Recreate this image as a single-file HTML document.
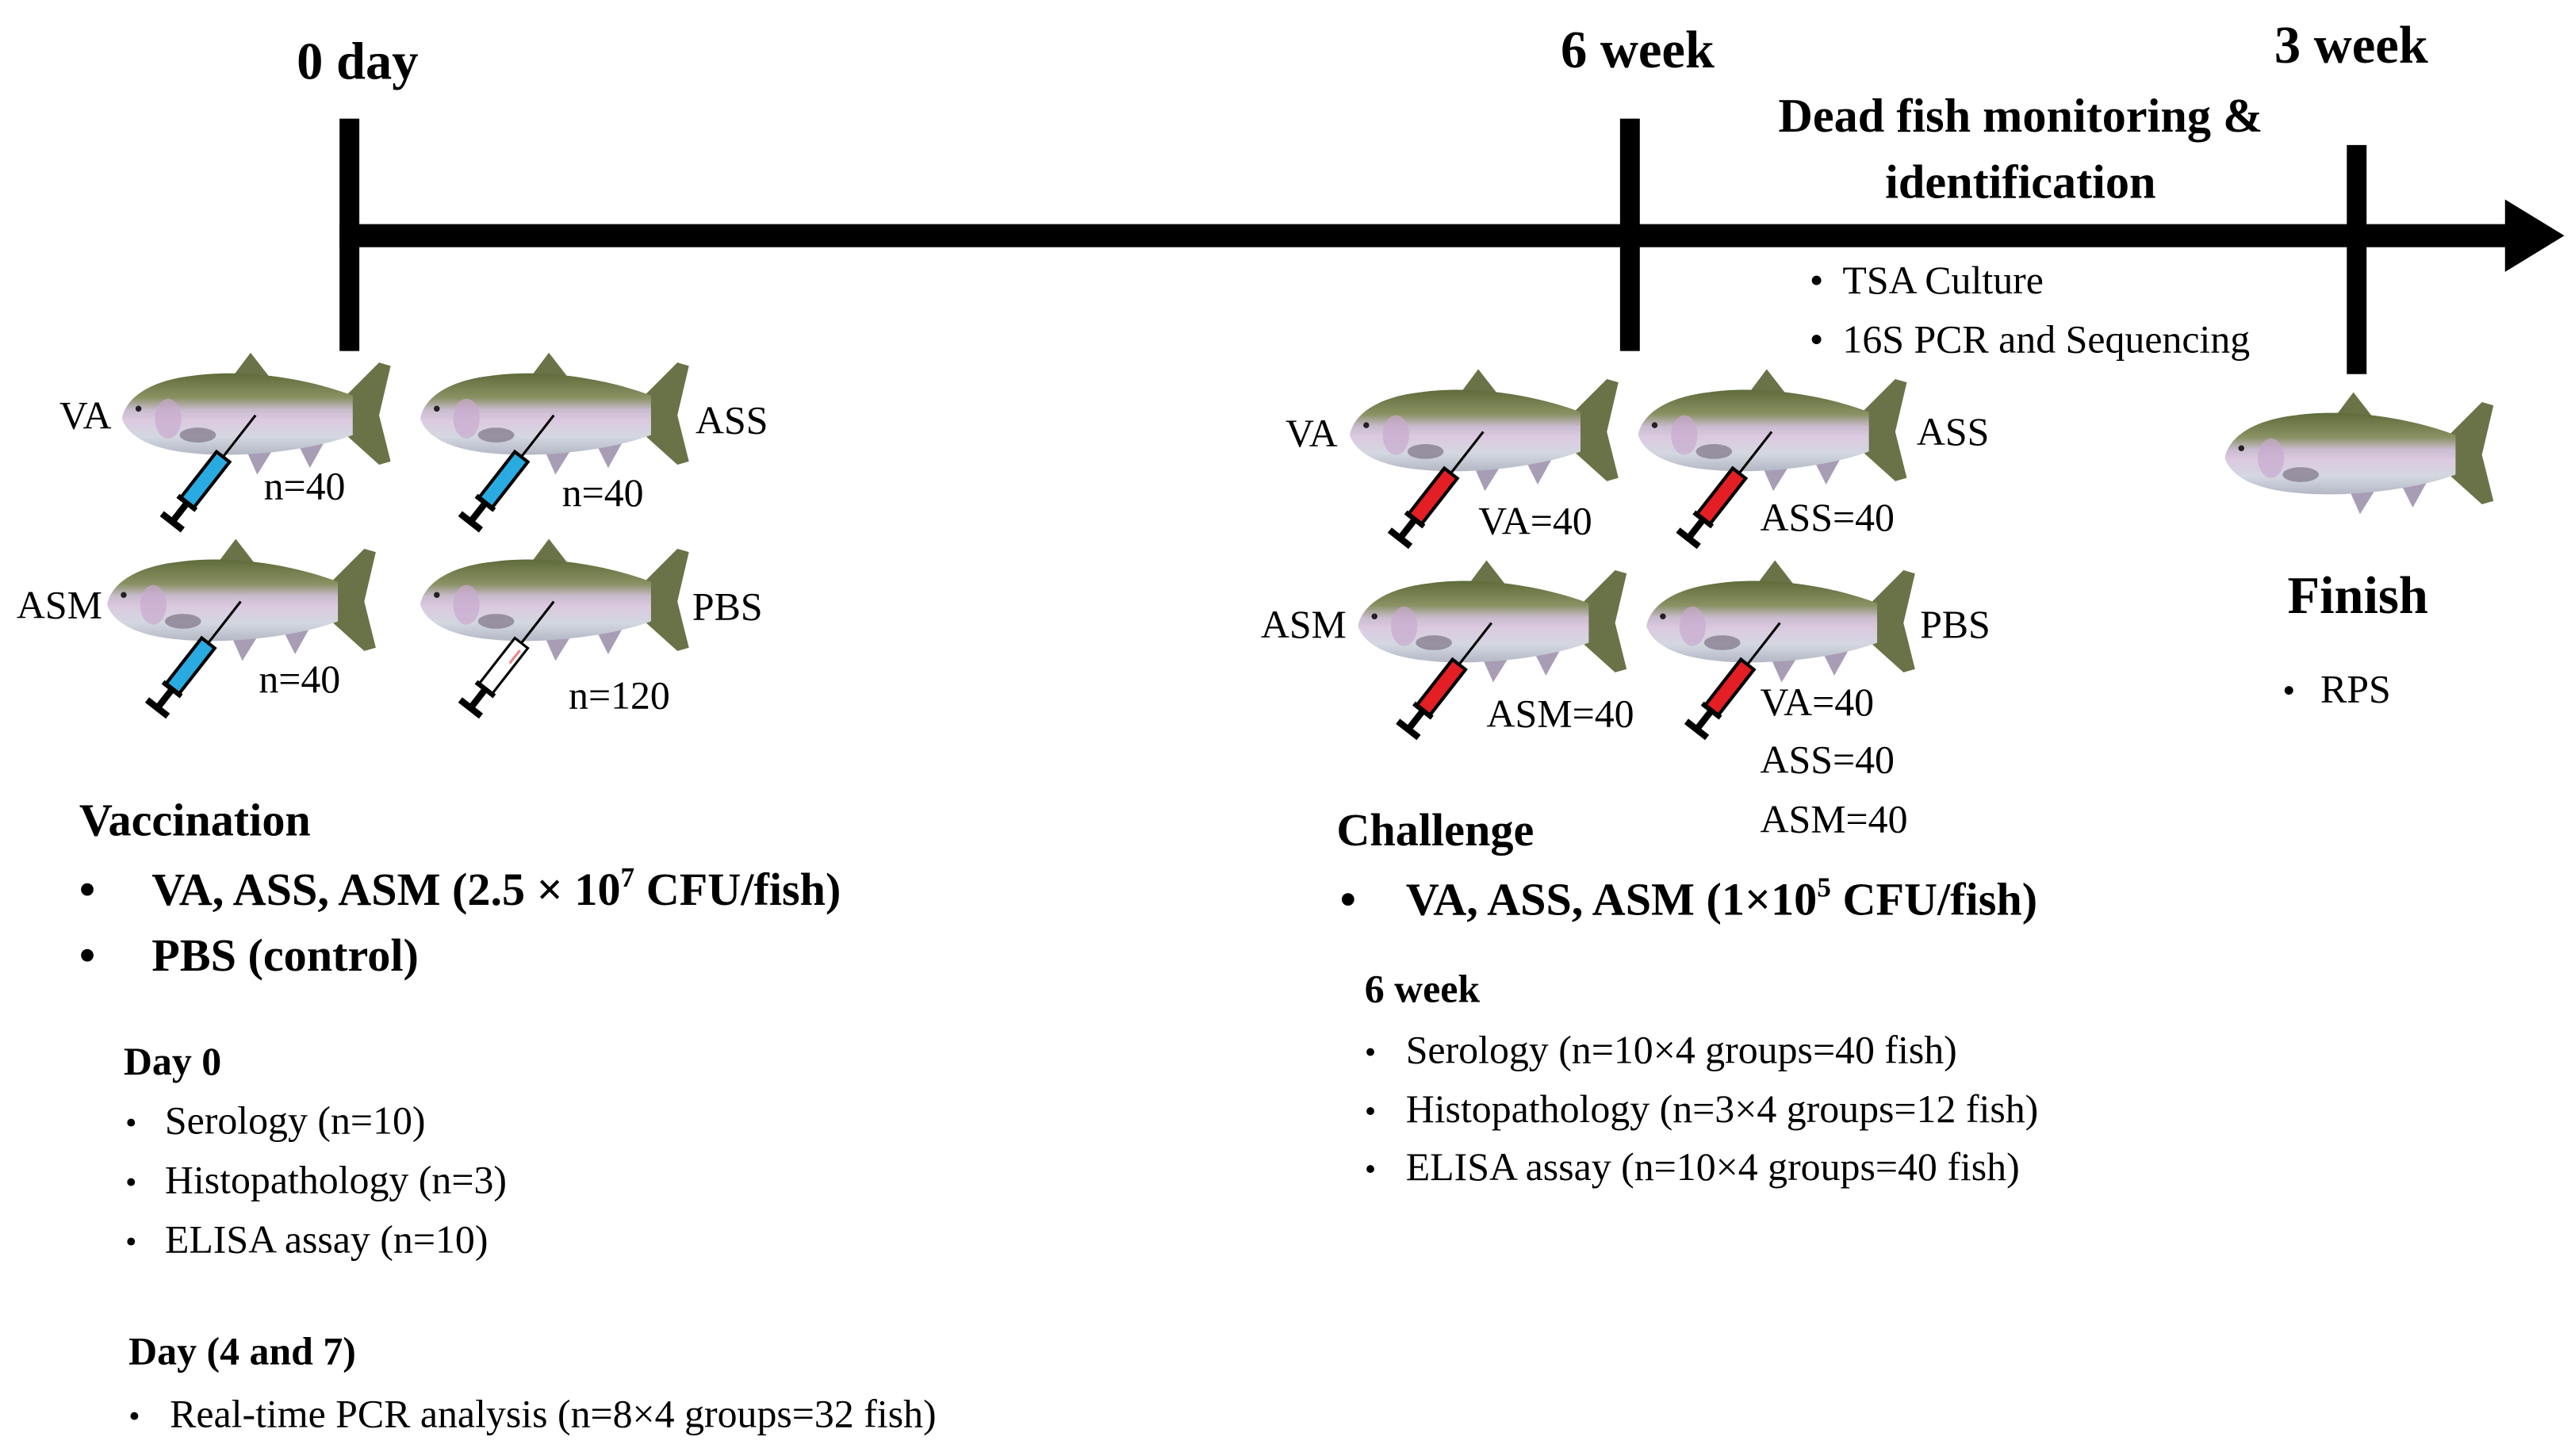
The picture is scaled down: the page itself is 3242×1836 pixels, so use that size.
<!DOCTYPE html>
<html><head><meta charset="utf-8"><style>
html,body{margin:0;padding:0;background:#fff;}
svg{display:block;}
text{font-family:"Liberation Serif",serif;fill:#000;}
.b{font-weight:bold;}
</style></head><body>
<svg width="3242" height="1836" viewBox="0 0 1560 883.5" xmlns="http://www.w3.org/2000/svg">
<defs>
<linearGradient id="fg" x1="0" y1="0" x2="0" y2="1">
<stop offset="0" stop-color="#5f6b3a"/>
<stop offset="0.3" stop-color="#8a9163"/>
<stop offset="0.45" stop-color="#c9bccf"/>
<stop offset="0.58" stop-color="#dccae0"/>
<stop offset="0.78" stop-color="#d3d7e0"/>
<stop offset="1" stop-color="#b4b8c6"/>
</linearGradient>
<g id="fish">
<path d="M68,16 L80,0 L94,18 Z" fill="#6a7248"/>
<path d="M76,56 L84,74 L94,58 Z" fill="#a99db6"/>
<path d="M108,54 L116,70 L126,52 Z" fill="#a99db6"/>
<path d="M138,26 L158,6 L165,8 L158,38 L165,66 L158,68 L138,50 Z" fill="#6a7248"/>
<path d="M2,40 C4,28 18,17 45,14 C72,10 110,14 142,26 L142,50 C115,60 72,64 45,61 C22,59 6,52 2,40 Z" fill="url(#fg)"/>
<ellipse cx="30" cy="40" rx="8" ry="12" fill="#c9a9cf" opacity="0.7"/>
<ellipse cx="48" cy="50" rx="11" ry="4.5" fill="#7d7486" opacity="0.7"/>
<circle cx="12" cy="34" r="1.8" fill="#222"/>
</g>
<g id="syrB"><line x1="0" y1="0" x2="0" y2="32" stroke="#000" stroke-width="1.5"/><rect x="-5" y="32" width="10" height="36" fill="#29abe2" stroke="#000" stroke-width="2"/><rect x="-2" y="68" width="4" height="14" fill="#000"/><rect x="-8" y="80" width="16" height="4" fill="#000"/><rect x="-7" y="66" width="14" height="3" fill="#000"/></g>
<g id="syrR"><line x1="0" y1="0" x2="0" y2="32" stroke="#000" stroke-width="1.5"/><rect x="-5" y="32" width="10" height="36" fill="#e31e24" stroke="#000" stroke-width="2"/><rect x="-2" y="68" width="4" height="14" fill="#000"/><rect x="-8" y="80" width="16" height="4" fill="#000"/><rect x="-7" y="66" width="14" height="3" fill="#000"/></g>
<g id="syrW"><line x1="0" y1="0" x2="0" y2="32" stroke="#000" stroke-width="1.5"/><rect x="-5" y="32" width="10" height="36" fill="#fff" stroke="#000" stroke-width="1.5"/><line x1="2" y1="36" x2="2" y2="46" stroke="#e88" stroke-width="1.5"/><rect x="-2" y="68" width="4" height="14" fill="#000"/><rect x="-8" y="80" width="16" height="4" fill="#000"/><rect x="-7" y="66" width="14" height="3" fill="#000"/></g>
</defs>

<!-- timeline -->
<rect x="206" y="136" width="1318" height="14" fill="#000"/>
<polygon points="1520,121 1556,143 1520,165" fill="#000"/>
<rect x="206" y="72" width="12" height="141" fill="#000"/>
<rect x="983" y="72" width="12" height="141" fill="#000"/>
<rect x="1424" y="88" width="12" height="139" fill="#000"/>

<text x="180" y="48" font-size="32" class="b">0 day</text>
<text x="947" y="41" font-size="32" class="b">6 week</text>
<text x="1380" y="38" font-size="32" class="b">3 week</text>
<text x="1226" y="80" font-size="29" class="b" text-anchor="middle">Dead fish monitoring &amp;</text>
<text x="1226" y="120" font-size="29" class="b" text-anchor="middle">identification</text>
<text x="1098" y="178" font-size="24">•</text><text x="1118" y="178" font-size="24">TSA Culture</text>
<text x="1098" y="214" font-size="24">•</text><text x="1118" y="214" font-size="24">16S PCR and Sequencing</text>

<!-- vaccination fish -->
<use href="#fish" x="72" y="214"/>
<use href="#syrB" transform="translate(155,252) rotate(38)"/>
<text x="36" y="260" font-size="24">VA</text>
<text x="160" y="303" font-size="24">n=40</text>

<use href="#fish" x="253" y="214"/>
<use href="#syrB" transform="translate(336,252) rotate(38)"/>
<text x="422" y="263" font-size="24">ASS</text>
<text x="341" y="307" font-size="24">n=40</text>

<use href="#fish" x="63" y="327"/>
<use href="#syrB" transform="translate(146,365) rotate(38)"/>
<text x="10" y="375" font-size="24">ASM</text>
<text x="157" y="420" font-size="24">n=40</text>

<use href="#fish" x="253" y="327"/>
<use href="#syrW" transform="translate(336,365) rotate(38)"/>
<text x="420" y="376" font-size="24">PBS</text>
<text x="345" y="430" font-size="24">n=120</text>

<!-- challenge fish -->
<use href="#fish" x="817" y="224"/>
<use href="#syrR" transform="translate(900,262) rotate(38)"/>
<text x="780" y="271" font-size="24">VA</text>
<text x="897" y="324" font-size="24">VA=40</text>

<use href="#fish" x="992" y="224"/>
<use href="#syrR" transform="translate(1075,262) rotate(38)"/>
<text x="1163" y="270" font-size="24">ASS</text>
<text x="1068" y="322" font-size="24">ASS=40</text>

<use href="#fish" x="822" y="340"/>
<use href="#syrR" transform="translate(905,378) rotate(38)"/>
<text x="765" y="387" font-size="24">ASM</text>
<text x="902" y="441" font-size="24">ASM=40</text>

<use href="#fish" x="997" y="340"/>
<use href="#syrR" transform="translate(1080,378) rotate(38)"/>
<text x="1165" y="387" font-size="24">PBS</text>
<text x="1068" y="434" font-size="24">VA=40</text>
<text x="1068" y="469" font-size="24">ASS=40</text>
<text x="1068" y="505" font-size="24">ASM=40</text>

<use href="#fish" x="1348" y="238"/>
<text x="1388" y="372" font-size="32" class="b">Finish</text>
<text x="1385" y="426" font-size="22">•</text><text x="1408" y="426" font-size="24">RPS</text>

<!-- vaccination text -->
<text x="48" y="507" font-size="28" class="b">Vaccination</text>
<text x="48" y="549" font-size="28" class="b">•</text>
<text x="92" y="549" font-size="28" class="b">VA, ASS, ASM (2.5 × 10<tspan font-size="17" dy="-11">7</tspan><tspan dy="11"> CFU/fish)</tspan></text>
<text x="48" y="589" font-size="28" class="b">•</text>
<text x="92" y="589" font-size="28" class="b">PBS (control)</text>
<text x="75" y="652" font-size="24" class="b">Day 0</text>
<text x="76" y="688" font-size="20">•</text><text x="100" y="688" font-size="24">Serology (n=10)</text>
<text x="76" y="724" font-size="20">•</text><text x="100" y="724" font-size="24">Histopathology (n=3)</text>
<text x="76" y="760" font-size="20">•</text><text x="100" y="760" font-size="24">ELISA assay (n=10)</text>
<text x="78" y="828" font-size="24" class="b">Day (4 and 7)</text>
<text x="78" y="866" font-size="20">•</text><text x="103" y="866" font-size="24">Real-time PCR analysis (n=8×4 groups=32 fish)</text>

<!-- challenge text -->
<text x="811" y="513" font-size="28" class="b">Challenge</text>
<text x="813" y="555" font-size="28" class="b">•</text>
<text x="853" y="555" font-size="28" class="b">VA, ASS, ASM (1×10<tspan font-size="17" dy="-11">5</tspan><tspan dy="11"> CFU/fish)</tspan></text>
<text x="828" y="608" font-size="24" class="b">6 week</text>
<text x="828" y="645" font-size="20">•</text><text x="853" y="645" font-size="24">Serology (n=10×4 groups=40 fish)</text>
<text x="828" y="681" font-size="20">•</text><text x="853" y="681" font-size="24">Histopathology (n=3×4 groups=12 fish)</text>
<text x="828" y="716" font-size="20">•</text><text x="853" y="716" font-size="24">ELISA assay (n=10×4 groups=40 fish)</text>
</svg>
</body></html>
